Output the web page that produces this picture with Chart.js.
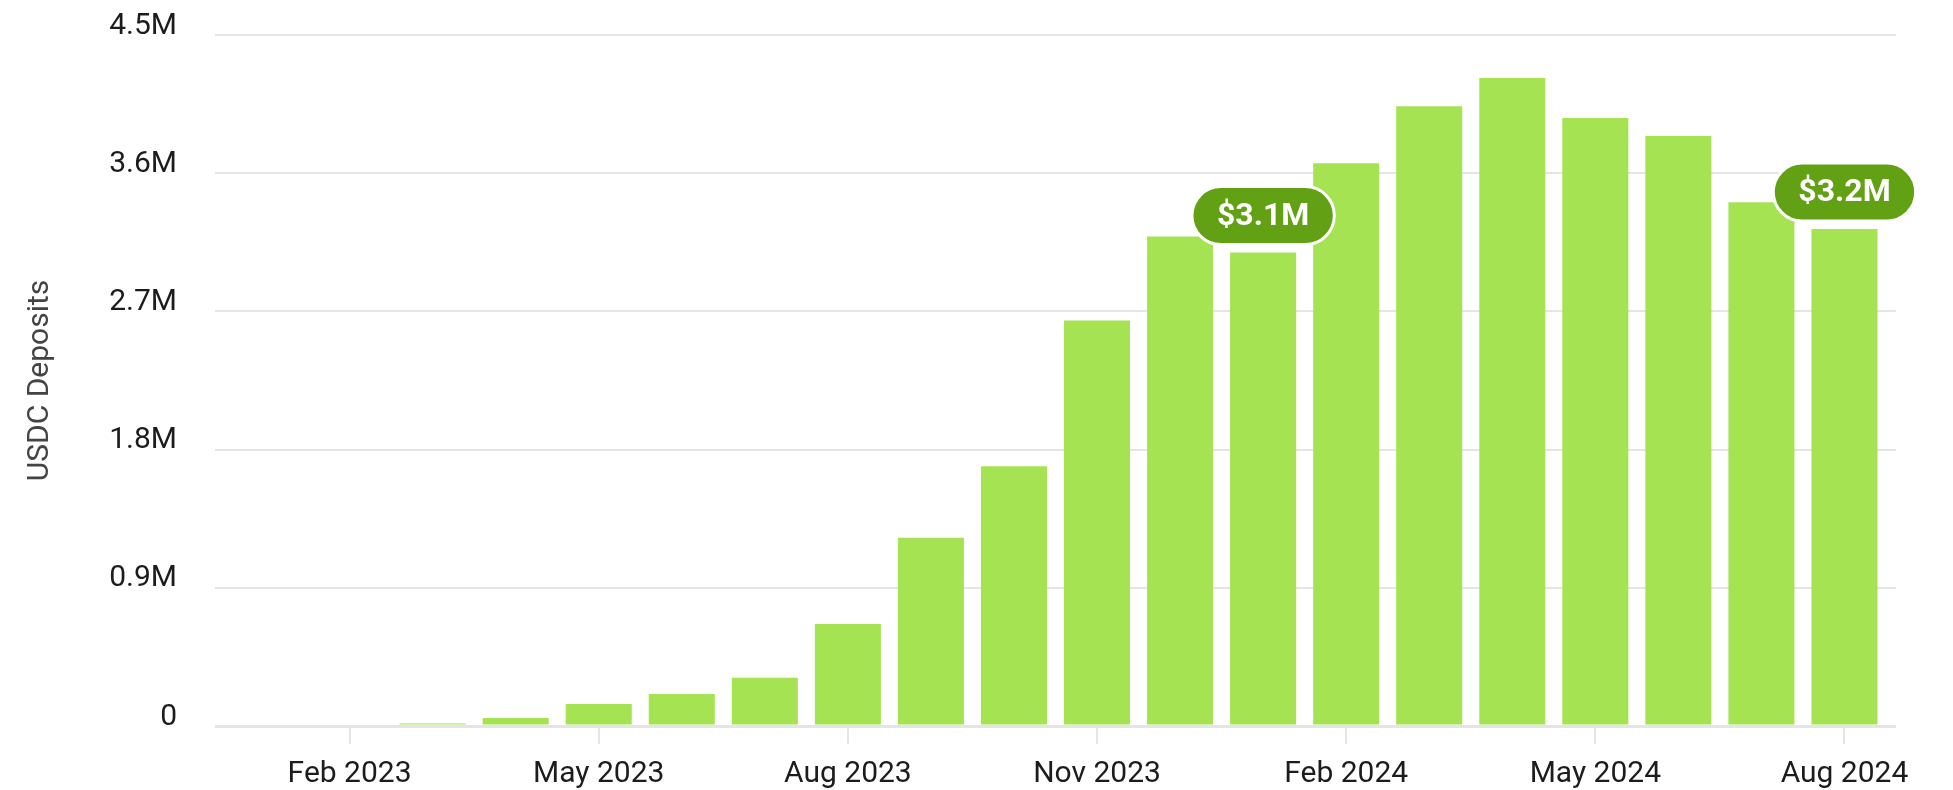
<!DOCTYPE html>
<html>
<head>
<meta charset="utf-8">
<script src="https://cdn.jsdelivr.net/npm/chart.js@4.4.1/dist/chart.umd.min.js"></script>
<style>
  html, body { margin: 0; padding: 0; background: #fff; }
  #wrap { width: 1953px; height: 790px; position: relative; }
</style>
</head>
<body>
<div id="wrap"><canvas id="chart"></canvas></div>
<script>
const months = [
  'Jan 2023', 'Feb 2023', 'Mar 2023', 'Apr 2023', 'May 2023', 'Jun 2023',
  'Jul 2023', 'Aug 2023', 'Sep 2023', 'Oct 2023', 'Nov 2023', 'Dec 2023',
  'Jan 2024', 'Feb 2024', 'Mar 2024', 'Apr 2024', 'May 2024', 'Jun 2024',
  'Jul 2024', 'Aug 2024'
];
const deposits = [
  0, 0, 16000, 52000, 144000, 209000,
  315000, 664000, 1226000, 1692000, 2640000, 3187000,
  3083000, 3665000, 4036000, 4220000, 3960000, 3843000,
  3411000, 3236000
];
// only every third month gets a label on the x axis
const labelledMonths = ['Feb', 'May', 'Aug', 'Nov'];
const calloutMonths = ['Jan 2024', 'Aug 2024'];
const yMax = 4500000;
const yStep = 900000;

const barGreen = '#a6e352';
const pillGreen = '#62a014';
const gridGrey = '#e5e5e5';
const font = { family: 'Roboto', size: 30 };

// green pill labels sitting above selected bars
const calloutPlugin = {
  id: 'callouts',
  afterDatasetsDraw(chart) {
    const ctx = chart.ctx;
    const meta = chart.getDatasetMeta(0);
    ctx.save();
    ctx.font = '700 32px Roboto';
    calloutMonths.forEach(m => {
      const i = months.indexOf(m);
      const bar = meta.data[i];
      const text = '$' + (deposits[i] / 1e6).toFixed(1) + 'M';
      const h = 58;
      const w = ctx.measureText(text).width + 50;
      const left = bar.x - w / 2;
      const top = bar.y - 8 - h;
      ctx.beginPath();
      ctx.roundRect(left, top, w, h, h / 2);
      ctx.fillStyle = pillGreen;
      ctx.fill();
      ctx.lineWidth = 3;
      ctx.strokeStyle = '#ffffff';
      ctx.stroke();
      ctx.fillStyle = '#ffffff';
      ctx.textAlign = 'center';
      ctx.textBaseline = 'middle';
      ctx.fillText(text, bar.x, top + h / 2 + 1);
    });
    ctx.restore();
  }
};

new Chart(document.getElementById('chart'), {
  type: 'bar',
  data: {
    labels: months,
    datasets: [{
      label: 'USDC Deposits',
      data: deposits,
      backgroundColor: barGreen,
      borderWidth: 0,
      barPercentage: 0.795,
      categoryPercentage: 1
    }]
  },
  options: {
    responsive: true,
    maintainAspectRatio: false,
    animation: false,
    layout: { padding: { top: 35, right: 57, bottom: 0, left: 0 } },
    plugins: {
      legend: { display: false },
      tooltip: { enabled: false }
    },
    scales: {
      x: {
        offset: true,
        border: { display: false },
        grid: {
          drawOnChartArea: false,
          drawTicks: true,
          tickLength: 18,
          offset: false,
          color: gridGrey,
          lineWidth: 2
        },
        ticks: {
          autoSkip: false,
          maxRotation: 0,
          padding: 12,
          color: '#1c1c1c',
          font: font,
          callback: function(value, index) {
            const m = months[index];
            return labelledMonths.includes(m.slice(0, 3)) ? m : null;
          }
        },
        afterFit(scale) { scale.height = 64; }
      },
      y: {
        min: 0,
        max: yMax,
        border: { display: false },
        grid: {
          color: gridGrey,
          lineWidth: c => (c.tick && c.tick.value === 0 ? 3 : 2),
          drawTicks: true,
          tickLength: 10
        },
        ticks: {
          stepSize: yStep,
          padding: 38,
          labelOffset: -9,
          color: '#1c1c1c',
          font: font,
          callback: v => (v === 0 ? '0' : (v / 1e6).toFixed(1) + 'M')
        },
        title: {
          display: true,
          text: 'USDC Deposits',
          color: '#444444',
          font: font,
          padding: { top: 22, bottom: 0 }
        },
        afterFit(scale) {
          scale.width = 225;
          // tick padding would otherwise push the plot area down
          scale.paddingTop = 0;
          scale.paddingBottom = 0;
        }
      },
      y2: {
        position: 'right',
        min: 0,
        max: yMax,
        border: { display: false },
        grid: {
          drawOnChartArea: false,
          drawTicks: true,
          tickLength: 10,
          color: gridGrey,
          lineWidth: c => (c.tick && c.tick.value === 0 ? 3 : 2)
        },
        ticks: { display: false, stepSize: yStep },
        afterFit(scale) {
          scale.width = 10;
          scale.paddingTop = 0;
          scale.paddingBottom = 0;
        }
      }
    }
  },
  plugins: [calloutPlugin]
});
</script>
</body>
</html>
